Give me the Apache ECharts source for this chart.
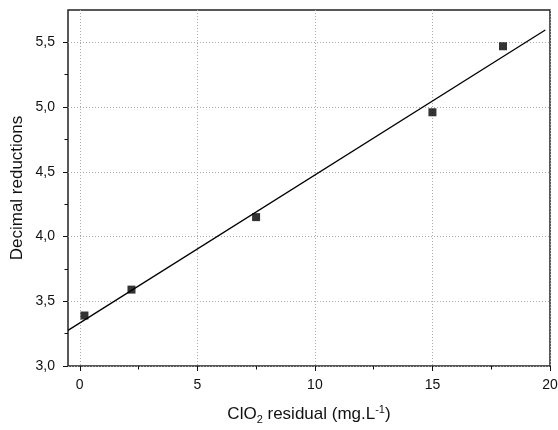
<!DOCTYPE html>
<html>
<head>
<meta charset="utf-8">
<script src="https://cdn.jsdelivr.net/npm/echarts@6/dist/echarts.min.js"></script>
<style>html,body{margin:0;padding:0;background:#fff;}#c{width:558px;height:430px;}</style>
</head>
<body>
<div id="c"></div>
<script>
// Measured data points
const residual = [0.2, 2.2, 7.5, 15, 18];
const reductions = [3.39, 3.59, 4.15, 4.96, 5.47];
// Fitted line endpoints
const fitX = [-0.5, 19.8];
const fitY = [3.275, 5.595];
// Axis ranges
const xRange = [-0.5, 20];
const yRange = [3, 5.75];
const xTickRange = [0, 20];
const yTickRange = [3, 5.5];

const FONT = 'Liberation Sans, Arial, sans-serif';
const chart = echarts.init(document.getElementById('c'), null, {renderer: 'canvas'});
const L = 68, R = 8, T = 10, B = 64;
const plotW = 558 - L - R, plotH = 430 - T - B;
const x0px = L + (xTickRange[0] - xRange[0]) / (xRange[1] - xRange[0]) * plotW;
const y55px = T + (yRange[1] - yTickRange[1]) / (yRange[1] - yRange[0]) * plotH;

const hidden = {show: false};
chart.setOption({
  animation: false,
  grid: [
    {left: L, right: R, top: T, bottom: B, show: true, borderColor: '#222', borderWidth: 1.5, backgroundColor: 'transparent', containLabel: false, outerBoundsMode: 'none'},
    {left: x0px, right: R, top: T, bottom: B, containLabel: false, outerBoundsMode: 'none'},
    {left: L, right: R, top: y55px, bottom: B, containLabel: false, outerBoundsMode: 'none'}
  ],
  xAxis: [
    {gridIndex: 0, type: 'value', min: xRange[0], max: xRange[1],
     axisLine: hidden, axisTick: hidden, axisLabel: hidden, splitLine: hidden,
     name: '{a|ClO}{sub|2}{a| residual (mg.L}{sup|-1}{a|)}', nameLocation: 'middle', nameGap: 37,
     nameTextStyle: {color: '#111', fontFamily: FONT, fontSize: 17,
       rich: {a: {fontSize: 17, fontFamily: FONT, color: '#111'},
              sub: {fontSize: 11, fontFamily: FONT, color: '#111', padding: [11, 0, 0, 0]},
              sup: {fontSize: 11, fontFamily: FONT, color: '#111', padding: [0, 0, 9, 0]}}}},
    {gridIndex: 1, type: 'value', min: xTickRange[0], max: xTickRange[1], interval: 5,
     axisLine: {show: false},
     axisTick: {show: true, inside: false, length: 5, lineStyle: {color: '#111', width: 1}},
     minorTick: {show: true, splitNumber: 2, length: 3.5, lineStyle: {color: '#111', width: 1}},
     axisLabel: {show: true, margin: 12, color: '#111', fontFamily: FONT, fontSize: 14},
     splitLine: {show: true, lineStyle: {color: '#aaa', type: [1, 2], width: 1}}},
    {gridIndex: 2, type: 'value', min: 0, max: 1, show: false}
  ],
  yAxis: [
    {gridIndex: 0, type: 'value', min: yRange[0], max: yRange[1],
     axisLine: hidden, axisTick: hidden, axisLabel: hidden, splitLine: hidden,
     name: 'Decimal reductions', nameLocation: 'middle', nameGap: 42,
     nameTextStyle: {color: '#111', fontFamily: FONT, fontSize: 17}},
    {gridIndex: 1, type: 'value', min: 0, max: 1, show: false},
    {gridIndex: 2, type: 'value', min: yTickRange[0], max: yTickRange[1], interval: 0.5,
     axisLine: {show: false},
     axisTick: {show: true, inside: false, length: 5, lineStyle: {color: '#111', width: 1}},
     minorTick: {show: true, splitNumber: 2, length: 3.5, lineStyle: {color: '#111', width: 1}},
     axisLabel: {show: true, margin: 13, color: '#111', fontFamily: FONT, fontSize: 14,
       formatter: v => v.toFixed(1).replace('.', ',')},
     splitLine: {show: true, lineStyle: {color: '#aaa', type: [1, 2], width: 1}}}
  ],
  series: [
    {type: 'line', xAxisIndex: 0, yAxisIndex: 0, data: fitX.map((x, i) => [x, fitY[i]]),
     showSymbol: false, symbol: 'none', lineStyle: {color: '#000', width: 1.3}, z: 3},
    {type: 'scatter', xAxisIndex: 0, yAxisIndex: 0, data: residual.map((x, i) => [x, reductions[i]]),
     symbol: 'rect', symbolSize: 8, itemStyle: {color: '#000'}, z: 4}
  ]
});
</script>
</body>
</html>
